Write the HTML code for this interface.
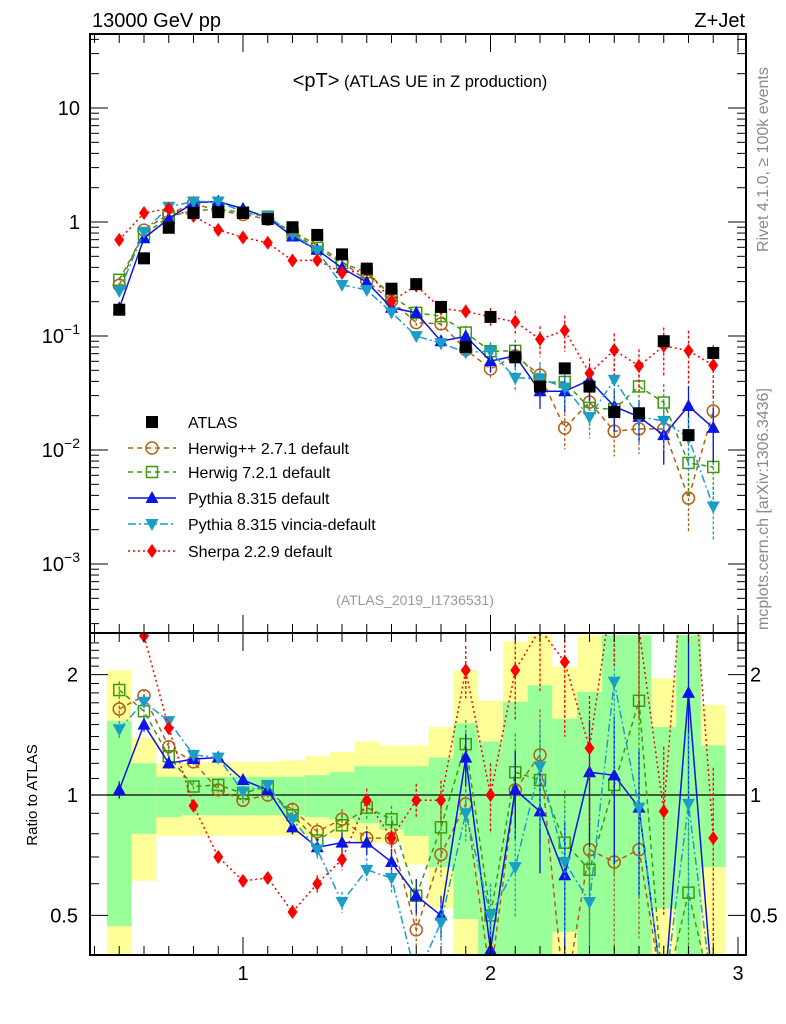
<!DOCTYPE html>
<html><head><meta charset="utf-8">
<style>
html,body{margin:0;padding:0;background:#fff;overflow:hidden;width:786px;height:1024px;}
svg{display:block;font-family:"Liberation Sans",sans-serif;overflow:hidden;}
</style></head>
<body>
<svg id="c" width="786" height="1024" viewBox="0 0 786 1024" xmlns="http://www.w3.org/2000/svg">
<defs>
<clipPath id="clipMain"><rect x="90" y="34" width="656" height="599"/></clipPath>
<clipPath id="clipRatio"><rect x="90" y="634" width="656" height="321"/></clipPath>
</defs>
<g id="bands" clip-path="url(#clipRatio)"></g>
<g id="ratioG" clip-path="url(#clipRatio)"></g>
<g id="mainG" clip-path="url(#clipMain)"></g>
<g id="axes"></g>
<text x="92" y="27" font-size="20">13000 GeV pp</text>
<text x="745" y="27" font-size="20" text-anchor="end">Z+Jet</text>
<text x="420" y="87" text-anchor="middle"><tspan font-size="20">&lt;pT&gt;</tspan><tspan font-size="16.5"> (ATLAS UE in Z production)</tspan></text>
<text x="415" y="605" text-anchor="middle" font-size="14" fill="#999">(ATLAS_2019_I1736531)</text>
<text transform="translate(768,252) rotate(-90)" font-size="16" fill="#8a8a8a">Rivet 4.1.0, ≥ 100k events</text>
<text transform="translate(768,630) rotate(-90)" font-size="16" fill="#8a8a8a">mcplots.cern.ch [arXiv:1306.3436]</text>
<text transform="translate(37,795) rotate(-90)" font-size="15" text-anchor="middle">Ratio to ATLAS</text>
<g id="legend"></g>
</svg>
<script>
const xs = [0.5,0.6,0.7,0.8,0.9,1.0,1.1,1.2,1.3,1.4,1.5,1.6,1.7,1.8,1.9,2.0,2.1,2.2,2.3,2.4,2.5,2.6,2.7,2.8,2.9];
const atlas = [0.17,0.48,0.89,1.2,1.22,1.2,1.06,0.9,0.77,0.52,0.39,0.26,0.285,0.18,0.08,0.147,0.065,0.036,0.052,0.036,0.0215,0.021,0.09,0.0135,0.071];
const rHerwigpp = [1.64,1.77,1.32,1.21,1.03,0.97,1.0,0.92,0.81,0.87,0.78,0.78,0.46,0.71,0.95,0.35,1.03,1.26,0.3,0.73,0.68,0.73,0.17,0.28,0.31];
const rHerwig7 = [1.83,1.62,1.25,1.05,1.06,1.01,1.05,0.89,0.77,0.84,0.93,0.87,0.56,0.83,1.34,0.5,1.14,1.09,0.76,0.65,1.06,1.72,0.29,0.57,0.1];
const rPythia = [1.03,1.5,1.2,1.23,1.24,1.09,1.03,0.83,0.74,0.76,0.76,0.68,0.56,0.5,1.24,0.41,1.03,0.91,0.63,1.14,1.12,0.93,0.15,1.8,0.22];
const rVincia = [1.46,1.71,1.53,1.26,1.24,1.02,1.06,0.87,0.73,0.54,0.65,0.62,0.35,0.48,0.9,0.5,0.66,1.18,0.68,0.54,1.92,0.93,0.2,0.95,0.045];
const rSherpa = [4.1,2.5,1.47,0.94,0.7,0.61,0.62,0.51,0.6,0.69,0.97,0.78,0.97,0.97,2.05,1.0,2.05,2.6,2.15,1.31,3.5,2.6,0.91,5.5,0.78];
const relErr = [0.05,0.04,0.03,0.03,0.03,0.03,0.03,0.04,0.05,0.06,0.07,0.08,0.1,0.12,0.15,0.2,0.25,0.3,0.35,0.35,0.4,0.4,0.45,0.5,0.5];
const yellowHi = [2.05,1.39,1.2,1.2,1.21,1.21,1.21,1.22,1.25,1.28,1.36,1.33,1.33,1.48,2.05,1.72,2.42,2.51,2.09,2.51,2.51,2.51,1.96,2.51,1.68];
const yellowLo = [0.4,0.61,0.79,0.79,0.79,0.79,0.79,0.79,0.79,0.78,0.76,0.76,0.67,0.52,0.4,0.4,0.4,0.4,0.4,0.4,0.4,0.4,0.4,0.4,0.4];
const greenHi = [1.53,1.2,1.11,1.11,1.11,1.11,1.11,1.11,1.12,1.14,1.18,1.18,1.18,1.24,1.51,1.36,1.71,1.88,1.55,1.81,2.51,2.51,1.48,2.51,1.33];
const greenLo = [0.47,0.8,0.88,0.89,0.89,0.89,0.89,0.89,0.88,0.87,0.85,0.82,0.79,0.66,0.49,0.4,0.4,0.4,0.455,0.4,0.4,0.4,0.52,0.4,0.66];
const mainTicks = ["10","1","10|-1","10|-2","10|-3"];
const mainTickVals = [10,1,0.1,0.01,0.001];
const ratioTicks = ["2","1","0.5"];
const ratioTickVals = [2,1,0.5];
const xTickLabels = ["1","2","3"];
const xTickVals = [1,2,3];

const NS="http://www.w3.org/2000/svg";
const clampY = p => Math.max(-20, Math.min(1000, p));
const X = v => 243 + (v-1)*247.5;
const YM = v => clampY(222 - 114*Math.log10(v));
const YR = v => clampY(795 - 400*Math.log10(v));
function mk(tag, attrs, parent){const e=document.createElementNS(NS,tag);for(const k in attrs)e.setAttribute(k,attrs[k]);parent.appendChild(e);return e;}
const axes=document.getElementById('axes'), mainG=document.getElementById('mainG'), ratioG=document.getElementById('ratioG'), bands=document.getElementById('bands'), legend=document.getElementById('legend');

for(let i=0;i<xs.length;i++){
  const x0=X(xs[i]-0.05), w=X(xs[i]+0.05)-x0;
  let r=mk('rect',{x:x0,y:YR(yellowHi[i]),width:w,height:YR(yellowLo[i])-YR(yellowHi[i]),fill:'#ffff99'},bands);
  
  
  let g=mk('rect',{x:x0,y:YR(greenHi[i]),width:w,height:YR(greenLo[i])-YR(greenHi[i]),fill:'#99ff99'},bands);
  
  
}
mk('line',{x1:90,x2:746,y1:YR(1),y2:YR(1),stroke:'#000','stroke-width':1.3},ratioG);

function marker(parent,type,cx,cy,color){
  let e;
  if(type==='square') e=mk('rect',{x:cx-6,y:cy-6,width:12,height:12,fill:'#000'},parent);
  else if(type==='circle') e=mk('circle',{cx:cx,cy:cy,r:6,fill:'none',stroke:color,'stroke-width':1.5},parent);
  else if(type==='osquare') e=mk('rect',{x:cx-5.5,y:cy-5.5,width:11,height:11,fill:'none',stroke:color,'stroke-width':1.5},parent);
  else if(type==='tri') e=mk('polygon',{points:`${cx},${cy-7} ${cx-6.5},${cy+5} ${cx+6.5},${cy+5}`,fill:color},parent);
  else if(type==='itri') e=mk('polygon',{points:`${cx},${cy+7} ${cx-6.5},${cy-5} ${cx+6.5},${cy-5}`,fill:color},parent);
  else if(type==='diamond') e=mk('polygon',{points:`${cx},${cy-7} ${cx+5},${cy} ${cx},${cy+7} ${cx-5},${cy}`,fill:color},parent);
  return e;
}
const series=[
 {name:'Herwig++ 2.7.1 default',r:rHerwigpp,color:'#b0601a',dash:'5,4',m:'circle',key:'herwigpp'},
 {name:'Herwig 7.2.1 default',r:rHerwig7,color:'#3d9a10',dash:'5,4',m:'osquare',key:'herwig7'},
 {name:'Pythia 8.315 default',r:rPythia,color:'#0a14e6',dash:'',m:'tri',key:'pythia'},
 {name:'Pythia 8.315 vincia-default',r:rVincia,color:'#1a9ec8',dash:'8,3,2,3',m:'itri',key:'vincia'},
 {name:'Sherpa 2.2.9 default',r:rSherpa,color:'#ff0000',dash:'2,3',m:'diamond',key:'sherpa'}
];
series.forEach(s=>{
  ['main','ratio'].forEach(panel=>{
    const parent = panel==='main'?mainG:ratioG;
    const Y = panel==='main'?YM:YR;
    const vals = xs.map((x,i)=> panel==='main'? s.r[i]*atlas[i] : s.r[i]);
    const g=mk('g',{},parent);
    
    
    const pl=mk('polyline',{points:xs.map((x,i)=>X(x)+','+Y(vals[i])).join(' '),fill:'none',stroke:s.color,'stroke-width':1.5,'stroke-dasharray':s.dash},g);
    
    
    xs.forEach((x,i)=>{
      const v=vals[i], e=relErr[i];
      const eb=mk('line',{x1:X(x),x2:X(x),y1:Y(v*(1+e)),y2:Y(Math.max(v*(1-e),1e-6)),stroke:s.color,'stroke-width':1.3,'stroke-dasharray':s.dash?'3,2':''},g);
      
      
      const m=marker(g,s.m,X(x),Y(v),s.color);
      
      
    });
  });
});
xs.forEach((x,i)=>{
  const m=marker(mainG,'square',X(x),YM(atlas[i]),'#000');
  
  
});

mk('rect',{x:90,y:34,width:656,height:599,fill:'none',stroke:'#000','stroke-width':2},axes);
mk('rect',{x:90,y:633,width:656,height:322,fill:'none',stroke:'#000','stroke-width':2},axes);
for(let k=4;k<=30;k++){
  const v=k/10, px=X(v); if(px<91||px>745) continue;
  const major = k%10===0, len = major?18:9;
  [[34,1],[633,-1],[633,1],[955,-1]].forEach(([y0,d])=>mk('line',{x1:px,x2:px,y1:y0,y2:y0+d*len,stroke:'#000','stroke-width':1},axes));
}
xTickVals.forEach((v,i)=>{
  const t=mk('text',{x:X(v),y:980,'font-size':20,'text-anchor':'middle'},axes);
  t.textContent=xTickLabels[i];
  
  
});
for(let d=-4;d<=1;d++){
  for(let m=1;m<10;m++){
    const v=m*Math.pow(10,d), py=YM(v); if(py<35||py>632) continue;
    const len=m===1?18:9;
    mk('line',{x1:90,x2:90+len,y1:py,y2:py,stroke:'#000'},axes);
    mk('line',{x1:746,x2:746-len,y1:py,y2:py,stroke:'#000'},axes);
  }
}
mainTickVals.forEach((v,i)=>{
  const parts=mainTicks[i].split('|');
  const t=mk('text',{x:80,y:YM(v)+7,'font-size':20,'text-anchor':'end'},axes);
  
  
  if(parts.length===1){t.textContent=parts[0];}
  else{
    const a=document.createElementNS(NS,'tspan');a.textContent=parts[0];t.appendChild(a);
    const b=document.createElementNS(NS,'tspan');b.setAttribute('dy','-9');b.setAttribute('font-size','14');b.textContent='−'+parts[1].slice(1);t.appendChild(b);
  }
});
[0.4,0.5,0.6,0.7,0.8,0.9,1,2].forEach(v=>{
  const py=YR(v); if(py<635||py>954) return;
  const len=(v===1||v===2||v===0.5)?18:9;
  mk('line',{x1:90,x2:90+len,y1:py,y2:py,stroke:'#000'},axes);
  mk('line',{x1:746,x2:746-len,y1:py,y2:py,stroke:'#000'},axes);
});
[1.1,1.2,1.3,1.4,1.5,1.6,1.7,1.8,1.9,2.1,2.2,2.3,2.4].forEach(v=>{
  const py=YR(v); if(py<635) return;
  mk('line',{x1:90,x2:99,y1:py,y2:py,stroke:'#000'},axes);
  mk('line',{x1:746,x2:737,y1:py,y2:py,stroke:'#000'},axes);
});
ratioTickVals.forEach((v,i)=>{
  const t=mk('text',{x:78,y:YR(v)+7,'font-size':20,'text-anchor':'end'},axes);
  t.textContent=ratioTicks[i];
  
  
  const t2=mk('text',{x:750,y:YR(v)+7,'font-size':20},axes);
  t2.textContent=ratioTicks[i];
  
  
});
const rows=[422,448,472,498,524,551];
const la=mk('g',{},legend);


marker(la,'square',152,rows[0],'#000');
const lt=mk('text',{x:188,y:rows[0]+6,'font-size':16},la);lt.textContent='ATLAS';
series.forEach((s,i)=>{
  const g=mk('g',{},legend);
  
  
  const y=rows[i+1];
  mk('line',{x1:128,x2:176,y1:y,y2:y,stroke:s.color,'stroke-width':1.5,'stroke-dasharray':s.dash},g);
  marker(g,s.m,152,y,s.color);
  const t=mk('text',{x:188,y:y+6,'font-size':16},g);t.textContent=s.name;
});
</script>
</body></html>
